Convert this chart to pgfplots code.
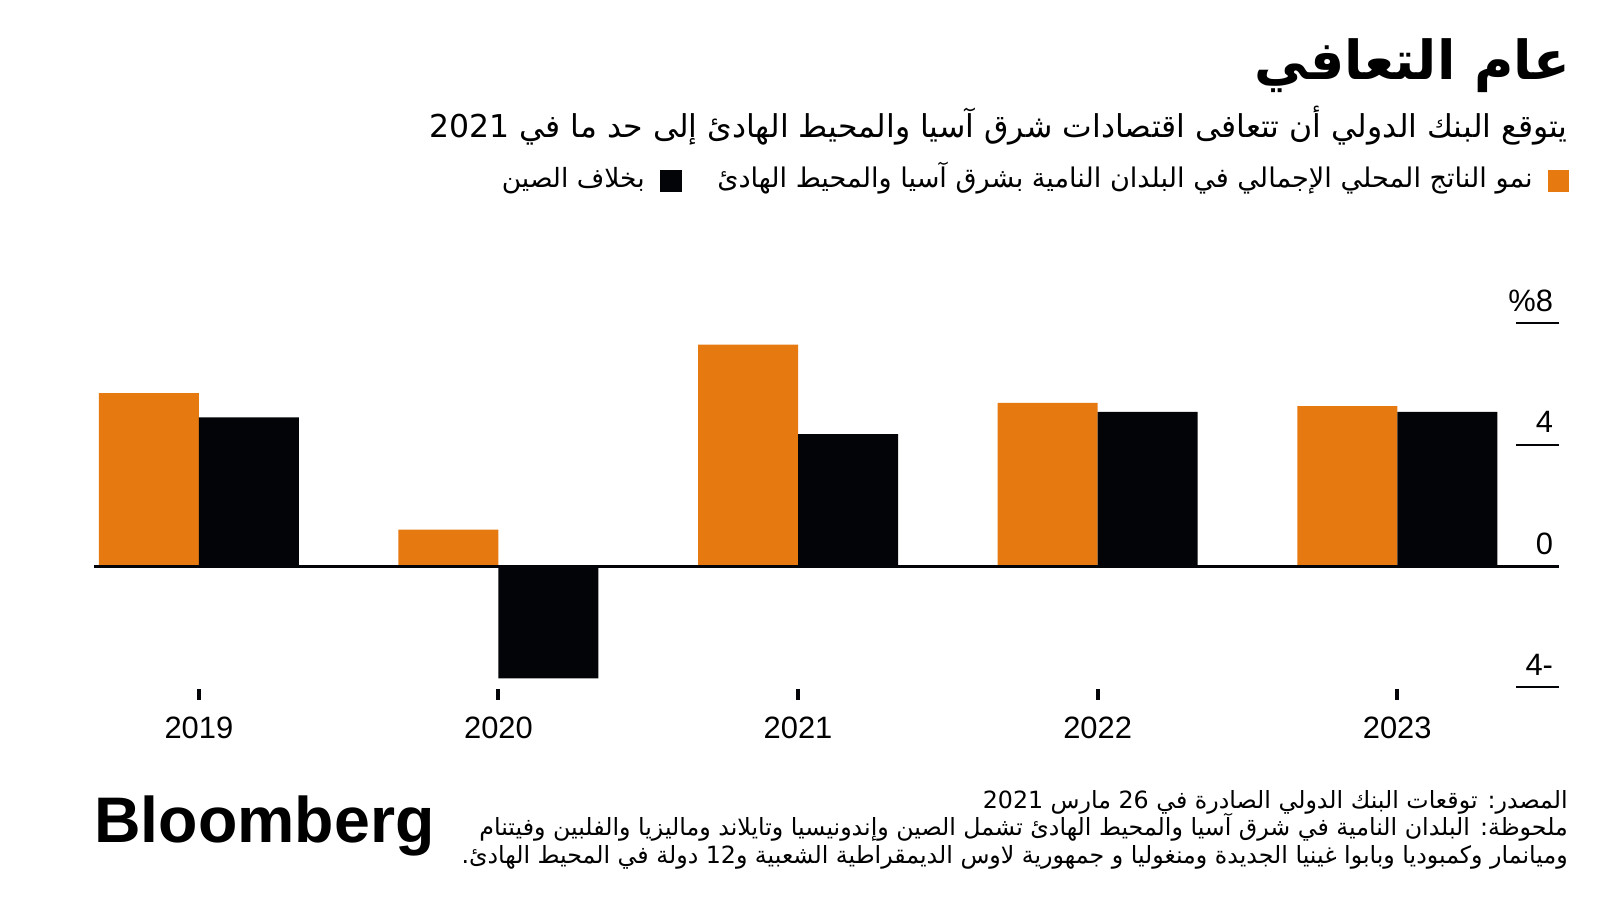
\documentclass[border=0pt]{standalone}
\usepackage{fontspec}
\setmainfont{Liberation Sans}
\newfontfamily\arabicfont[Script=Arabic]{DejaVu Sans}
\TeXXeTstate=1
\usepackage{pgfplots}
\pgfplotsset{compat=1.18}
\definecolor{bbOrange}{HTML}{E67A10}
\definecolor{bbBlack}{HTML}{030407}

\begin{document}
\begin{tikzpicture}[x=1bp,y=1bp]
\fill[white] (0,0) rectangle (800,450);
\begin{axis}[
  at={(47bp,105.5bp)}, anchor=south west,
  scale only axis, width=732.5bp, height=187.35bp,
  xmin=-0.35, xmax=4.54, ymin=-4.05, ymax=8.3,
  clip=false,
  axis x line*=bottom, axis y line*=right,
  axis line style={draw=none},
  xtick={0,1,2,3,4},
  xticklabels={2019,2020,2021,2022,2023},
  x tick style={draw=none},
  xticklabel style={font=\fontsize{15.5}{18}\selectfont, anchor=base, yshift=-24.8bp},
  ytick={-4,0,4,8},
  yticklabels={4-,0,4,\%8},
  ytick align=inside,
  major tick length=21.5bp,
  y tick style={line width=1bp, bbBlack},
  yticklabel style={font=\fontsize{15.5}{18}\selectfont, anchor=base east, xshift=0.5bp, yshift=6bp},
]
\addplot[ybar, bar width=50bp, bar shift=-25bp, fill=bbOrange, draw=none]
  coordinates {(0,5.7) (1,1.2) (2,7.3) (3,5.38) (4,5.27)};
\addplot[ybar, bar width=50bp, bar shift=25bp, fill=bbBlack, draw=none]
  coordinates {(0,4.9) (1,-3.7) (2,4.35) (3,5.08) (4,5.08)};
\draw[line width=1.4bp, bbBlack] (axis cs:-0.35,0) -- (axis cs:4.54,0);
\draw[line width=2bp, bbBlack] (axis cs:0,-4.05) -- ++(0pt,-5.5bp);
\draw[line width=2bp, bbBlack] (axis cs:1,-4.05) -- ++(0pt,-5.5bp);
\draw[line width=2bp, bbBlack] (axis cs:2,-4.05) -- ++(0pt,-5.5bp);
\draw[line width=2bp, bbBlack] (axis cs:3,-4.05) -- ++(0pt,-5.5bp);
\draw[line width=2bp, bbBlack] (axis cs:4,-4.05) -- ++(0pt,-5.5bp);
\end{axis}

% title and subtitle
\node[anchor=base east, inner sep=0, font=\arabicfont\bfseries\fontsize{27}{32}\selectfont] at (785.5,410)
  {\beginR عام التعافي\endR};
\node[anchor=base east, inner sep=0, font=\arabicfont\fontsize{15.8}{18}\selectfont] at (784,381)
  {\beginR يتوقع البنك الدولي أن تتعافى اقتصادات شرق آسيا والمحيط الهادئ إلى حد ما في \beginL 2021\endL\endR};

% legend
\fill[bbOrange] (774,354) rectangle (784.5,365);
\node[anchor=base east, inner sep=0, font=\arabicfont\fontsize{13.6}{15}\selectfont] at (766.5,356)
  {\beginR نمو الناتج المحلي الإجمالي في البلدان النامية بشرق آسيا والمحيط الهادئ\endR};
\fill[bbBlack] (330,354) rectangle (341,365);
\node[anchor=base east, inner sep=0, font=\arabicfont\fontsize{13.3}{15}\selectfont] at (322.5,356)
  {\beginR بخلاف الصين\endR};

% footer
\node[anchor=base west, inner sep=0] at (47,28.5)
  {\resizebox{170bp}{!}{\bfseries Bloomberg}};
\node[anchor=base east, inner sep=0, font=\arabicfont\fontsize{11.9}{14}\selectfont] at (784,45.5)
  {\beginR المصدر: توقعات البنك الدولي الصادرة في \beginL 26\endL{} مارس \beginL 2021\endL\endR};
\node[anchor=base east, inner sep=0, font=\arabicfont\fontsize{11.9}{14}\selectfont] at (784,32.2)
  {\beginR ملحوظة: البلدان النامية في شرق آسيا والمحيط الهادئ تشمل الصين وإندونيسيا وتايلاند وماليزيا والفلبين وفيتنام\endR};
\node[anchor=base east, inner sep=0, font=\arabicfont\fontsize{11.9}{14}\selectfont] at (784,18)
  {\beginR وميانمار وكمبوديا وبابوا غينيا الجديدة ومنغوليا و جمهورية لاوس الديمقراطية الشعبية  و12 دولة في المحيط الهادئ.\endR};
\end{tikzpicture}
\end{document}
